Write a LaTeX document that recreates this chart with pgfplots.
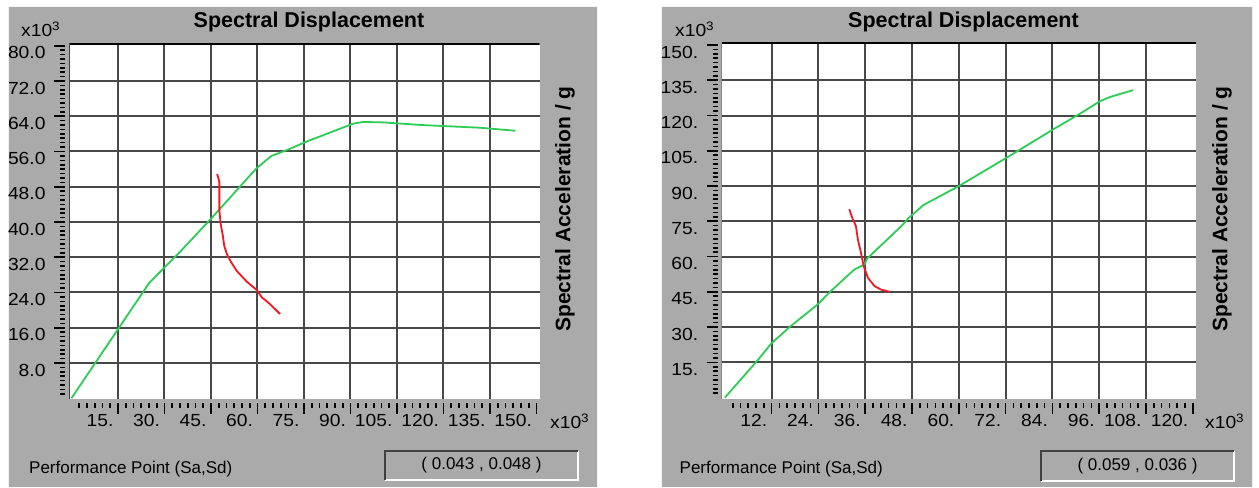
\documentclass[border=0pt]{standalone}
\usepackage{fontspec}
\setmainfont{Liberation Sans}
\newfontfamily\tickfam[FakeStretch=1.1]{Liberation Sans}
\usepackage{pgfplots}
\pgfplotsset{compat=1.18}
\definecolor{panel}{RGB}{170,170,170}
\definecolor{grd}{RGB}{72,72,72}
\definecolor{cgreen}{RGB}{45,205,85}
\definecolor{cred}{RGB}{240,25,35}
\newcommand{\tickfont}{\tickfam\fontsize{17.5}{18}\selectfont}
\pgfplotsset{
  spd/.style={
    scale only axis, anchor=south west,
    axis background/.style={fill=white},
    axis line style={draw=none},
    tick align=outside,
    xtick pos=lower, ytick pos=left,
    major tick length=11pt, minor tick length=5pt,
    xtick style={black, line width=1.6pt, yshift=-4pt},
    ytick style={black, line width=1.6pt, xshift=-4pt},
    minor tick style={line width=1.6pt},
    grid=major, major grid style={grd, line width=2pt},
    xticklabel style={font=\tickfont, anchor=north east, xshift=-1pt, yshift=-1pt},
    yticklabel style={font=\tickfont, anchor=east, xshift=-9pt, yshift=-7pt},
    extra x tick style={grid=none},
    extra y tick style={grid=none},
  },
  green curve/.style={cgreen, line width=1.8pt, line join=round},
  red curve/.style={cred, line width=1.8pt, line join=round},
}
\begin{document}
\begin{tikzpicture}
\path (0pt,0pt) rectangle (1259pt,487pt);
% panels
\fill[panel] (8pt,0pt) rectangle (597pt,480pt);
\fill[panel] (661pt,0pt) rectangle (1252pt,480pt);
\draw[white!85!panel, line width=1pt] (8pt,0pt) -- (8pt,480pt) -- (597pt,480pt) -- (597pt,0pt);
\draw[white!85!panel, line width=1pt] (661pt,0pt) -- (661pt,480pt) -- (1252pt,480pt) -- (1252pt,0pt);

% ---------- left chart ----------
\begin{axis}[spd, at={(69pt,88pt)}, width=470.5pt, height=356pt,
  xmin=-0.8, xmax=150.97, ymin=-0.17, ymax=80.62,
  xtick={15,30,...,135},
  xticklabels={15.,30.,45.,60.,75.,90.,105.,120.,135.},
  extra x ticks={150}, extra x tick labels={150.},
  minor xtick={2.5,5,...,147.5},
  ytick={8,16,...,72},
  yticklabels={8.0,16.0,24.0,32.0,40.0,48.0,56.0,64.0,72.0},
  extra y ticks={80}, extra y tick labels={80.0},
  minor ytick={1,2,...,79},
]
\addplot[green curve] coordinates {
(0,0) (25.1,26.2) (35.1,33.3) (44.7,40.5) (59.7,52.2) (64.5,55.0) (69.4,56.3)
(76,58.3) (90.8,62.3) (94,62.7) (100.6,62.6) (113,62.0) (131.6,61.4) (143.2,60.7)};
\addplot[red curve] coordinates {
(47.0,50.9) (47.7,49.1) (47.7,42.7) (48.1,39.7) (48.8,37.0) (49.3,34.5) (50.2,32.6) (51.4,31.0)
(53.3,28.9) (56.5,26.5) (59.7,24.6) (61.4,22.9) (64.0,21.4) (67.3,19.1)};
\draw[black, line width=3pt] (rel axis cs:0,1) -- (rel axis cs:1,1);
\draw[black!75, line width=1.5pt] (rel axis cs:0,0) -- (rel axis cs:0,1);
\end{axis}

% ---------- right chart ----------
\begin{axis}[spd, at={(721.7pt,88pt)}, width=474.3pt, height=356pt,
  xmin=-0.82, xmax=120.82, ymin=-0.6, ymax=150.85,
  xtick={12,24,...,108},
  xticklabels={12.,24.,36.,48.,60.,72.,84.,96.,108.},
  extra x ticks={120}, extra x tick labels={120.},
  minor xtick={2,4,...,118},
  ytick={15,30,...,135},
  yticklabels={15.,30.,45.,60.,75.,90.,105.,120.,135.},
  extra y ticks={150}, extra y tick labels={150.},
  minor ytick={1.875,3.75,...,148.2},
]
\addplot[green curve] coordinates {
(0,0) (8.1,15.3) (12,23.2) (16.8,30.3) (23.7,39.5) (27.1,45.2) (33.2,54.5)
(35.8,56.6) (36.5,59.2) (45.3,73) (47,76.2) (50.9,81.9) (59.9,89.9) (72.3,102.1)
(84.1,114) (91.1,120.8) (96.2,126.1) (98.8,127.9) (104.7,130.8)};
\addplot[red curve] coordinates {
(31.9,80.1) (32.8,75.9) (33.6,73) (34.1,67.3) (34.9,61.6) (35.6,55.9) (36.7,50.9)
(38.4,47.4) (40.1,45.9) (42.3,45)};
\draw[black, line width=3pt] (rel axis cs:0,1) -- (rel axis cs:1,1);
\draw[black!75, line width=1.5pt] (rel axis cs:0,0) -- (rel axis cs:0,1);
\end{axis}

% ---------- texts ----------
\begin{scope}[every node/.style={inner sep=0pt}]
\node[font=\fontsize{21.5}{24}\selectfont\bfseries] at (309pt,465pt) {Spectral Displacement};
\node[font=\fontsize{21.5}{24}\selectfont\bfseries] at (963.5pt,465pt) {Spectral Displacement};
\node[font=\fontsize{21}{24}\selectfont\bfseries, rotate=90] at (565pt,278pt) {Spectral Acceleration / g};
\node[font=\fontsize{21}{24}\selectfont\bfseries, rotate=90] at (1222pt,278pt) {Spectral Acceleration / g};
\node[font=\tickfont, anchor=base west] at (21pt,450pt) {x10\textsuperscript{3}};
\node[font=\tickfont, anchor=base west] at (675pt,450pt) {x10\textsuperscript{3}};
\node[font=\tickfont, anchor=base west] at (550pt,58pt) {x10\textsuperscript{3}};
\node[font=\tickfont, anchor=base west] at (1205pt,58pt) {x10\textsuperscript{3}};
\node[font=\fontsize{17}{20}\selectfont, anchor=west] at (29pt,18pt) {Performance Point (Sa,Sd)};
\node[font=\fontsize{17}{20}\selectfont, anchor=west] at (679.5pt,18pt) {Performance Point (Sa,Sd)};
\end{scope}
% result boxes
\draw[white, line width=2pt] (385pt,7pt) -- (578pt,7pt) -- (578pt,36pt);
\draw[black!75, line width=2pt] (385pt,7pt) -- (385pt,36pt) -- (578pt,36pt);
\node[font=\fontsize{17}{20}\selectfont, inner sep=0pt] at (481.5pt,21.5pt) {( 0.043 , 0.048 )};
\draw[white, line width=2pt] (1041pt,6pt) -- (1234pt,6pt) -- (1234pt,36pt);
\draw[black!75, line width=2pt] (1041pt,6pt) -- (1041pt,36pt) -- (1234pt,36pt);
\node[font=\fontsize{17}{20}\selectfont, inner sep=0pt] at (1137.5pt,21pt) {( 0.059 , 0.036 )};
\end{tikzpicture}
\end{document}
